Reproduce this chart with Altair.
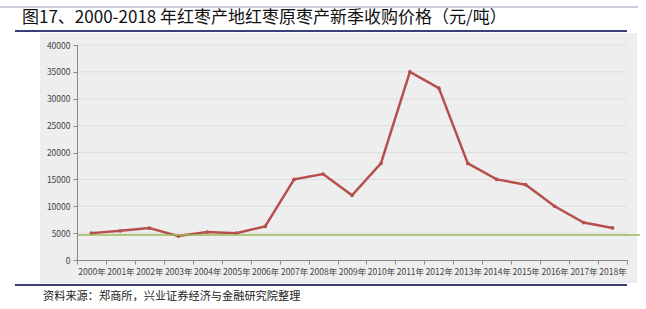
import altair as alt
import pandas as pd

years = ["2000年", "2001年", "2002年", "2003年", "2004年", "2005年", "2006年",
         "2007年", "2008年", "2009年", "2010年", "2011年", "2012年", "2013年",
         "2014年", "2015年", "2016年", "2017年", "2018年"]
prices = [5000, 5430, 5930, 4450, 5190, 5000, 6240, 15000, 16000, 12040,
          17970, 35000, 31970, 17970, 15000, 14010, 10000, 6970, 5960]
reference_level = [4630]
y_ticks = [0, 5000, 10000, 15000, 20000, 25000, 30000, 35000, 40000]

title_text = "图17、2000-2018 年红枣产地红枣原枣产新季收购价格（元/吨）"
source_text = "资料来源：郑商所，兴业证券经济与金融研究院整理"

df = pd.DataFrame({"year": years, "price": prices})
ref_df = pd.DataFrame({"price": reference_level})
grid_df = pd.DataFrame({"price": y_ticks[1:]})
one = pd.DataFrame({"a": [0]})

W, H = 550, 215
FONT = "Noto Sans CJK SC"

x_enc = alt.X("year:N", sort=years,
              scale=alt.Scale(type="band", paddingInner=0, paddingOuter=0),
              axis=alt.Axis(title=None, labelAngle=0, tickBand="extent",
                            labelFont=FONT, labelFontSize=8.5, labelColor="#444",
                            domainColor="#888", tickColor="#888", tickSize=4,
                            labelPadding=3, grid=False, zindex=1,
                            labelOverlap=False))
y_scale = alt.Scale(domain=[0, 40000], nice=False)
y_enc = alt.Y("price:Q", scale=y_scale,
              axis=alt.Axis(title=None, values=y_ticks, tickCount=9, format="d",
                            labelFont=FONT, labelFontSize=8.5, labelColor="#444",
                            domainColor="#888", tickColor="#888", tickSize=4,
                            grid=False, labelPadding=3, zindex=1,
                            labelOverlap=False, labelBound=False))

panel = alt.Chart(one).mark_rect(color="#EFEEEE").encode(
    x=alt.value(-37), x2=alt.value(560), y=alt.value(-12), y2=alt.value(238))

grid = alt.Chart(grid_df).mark_rule(color="#DEDCDC", strokeWidth=1).encode(
    y=y_enc, x=alt.value(0), x2=alt.value(W))

top_line = alt.Chart(one).mark_rule(color="#9A9DB5", strokeWidth=1).encode(
    x=alt.value(-77), x2=alt.value(561), y=alt.value(-38))
mid_line = alt.Chart(one).mark_rule(color="#3B3F78", strokeWidth=2).encode(
    x=alt.value(-62), x2=alt.value(550), y=alt.value(-14))
bot_line = alt.Chart(one).mark_rule(color="#3B3F78", strokeWidth=2).encode(
    x=alt.value(-62), x2=alt.value(550), y=alt.value(240))

title = alt.Chart(one).mark_text(text=title_text, font=FONT, fontSize=17,
                                 align="left", baseline="middle", color="#111").encode(
    x=alt.value(-55), y=alt.value(-27))
source = alt.Chart(one).mark_text(text=source_text, font=FONT, fontSize=11.2,
                                  align="left", baseline="middle", color="#222").encode(
    x=alt.value(-34), y=alt.value(252))

line = alt.Chart(df).mark_line(color="#B5504D", strokeWidth=2.5,
                               point=alt.OverlayMarkDef(color="#B5504D", size=14, filled=True)).encode(
    x=x_enc, y=y_enc)

green = alt.Chart(ref_df).mark_rule(color="#9BBB59", strokeWidth=1.5).encode(
    y=y_enc, x=alt.value(0), x2=alt.value(563))

chart = alt.layer(panel, grid, top_line, mid_line, bot_line, title, source, line, green).properties(
    width=W, height=H,
    autosize=alt.AutoSizeParams(type="none"),
    padding={"left": 77, "top": 45, "right": 19, "bottom": 49},
    background="white",
).configure_view(stroke=None)

chart.save("out.html", embed_options={"renderer": "svg", "actions": False})
